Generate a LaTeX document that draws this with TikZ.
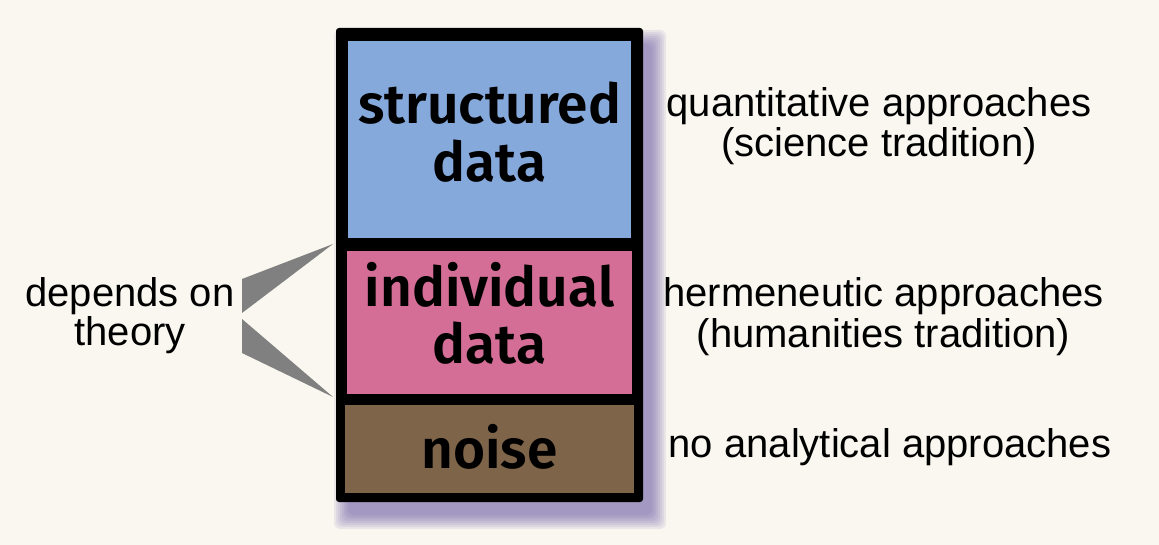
\documentclass[tikz,border=0pt]{standalone}
\usepackage{fontspec}
\setmainfont{Liberation Sans}
\newfontfamily\boxfont{Fira Sans}[UprightFont=* SemiBold]
\usetikzlibrary{positioning}
\definecolor{bgcream}{HTML}{F9F7EF}
\definecolor{structblue}{HTML}{86A9DC}
\definecolor{indivpink}{HTML}{D46E96}
\definecolor{noisebrown}{HTML}{7E6449}
\definecolor{shadowpurple}{HTML}{6A58A6}
\definecolor{wedgegray}{HTML}{808080}

\begin{document}
\begin{tikzpicture}[x=1pt, y=-1pt,
        frame/.style={rectangle, fill=black, rounded corners=3pt, inner sep=0pt},
        panel/.style={rectangle, draw=none, inner sep=0pt},
        boxtext/.style={font=\boxfont\fontsize{55}{58}\selectfont, anchor=base, inner sep=0pt},
        sidetext/.style={font=\fontsize{40}{39}\selectfont, anchor=base, inner sep=0pt},
        wedge/.style={fill=wedgegray, draw=none}
    ]

% Background
    \fill[bgcream] (0,0) rectangle (1159,545);
    \useasboundingbox (0,0) rectangle (1159,545);

% Shadow
    \foreach \d in {12,10,...,-2}
        \fill[shadowpurple, opacity=0.1, rounded corners=6pt]
            (346-\d,42-\d) rectangle (654+\d,517+\d);

% Outer frame and panels
    \node[frame, minimum width=307pt, minimum height=474pt] (stack) at (489.5,265) {};
    \node[panel, fill=structblue, minimum width=283pt, minimum height=197pt] (structured) at (489.5,139.5) {};
    \node[panel, fill=indivpink, minimum width=285pt, minimum height=142pt] (individual) at (489.5,322.5) {};
    \node[panel, fill=noisebrown, minimum width=289pt, minimum height=88pt] (noise) at (489.5,449) {};

% Panel labels
    \node[boxtext] (structuredA) at (489.5,124) {structured};
    \node[boxtext] (structuredB) at (489.5,182) {data};
    \node[boxtext] (individualA) at (489.5,306) {individual};
    \node[boxtext] (individualB) at (489.5,363) {data};
    \node[boxtext] (noiseA) at (489.5,468) {noise};

% Approaches
    \node[sidetext] (quantA) at (879,117) {quantitative approaches};
    \node[sidetext] (quantB) at (879,157) {(science tradition)};
    \node[sidetext] (hermA) at (883.5,307) {hermeneutic approaches};
    \node[sidetext] (hermB) at (883.5,347) {(humanities tradition)};
    \node[sidetext] (noneA) at (890,457) {no analytical approaches};

% Theory
    \node[sidetext] (theoryA) at (130,306) {depends on};
    \node[sidetext] (theoryB) at (130,345) {theory};
    \coordinate (tipUpper) at (333,244);
    \coordinate (tipLower) at (333,397);
    \fill[wedge] (242,279) -- (tipUpper) -- (242,313) -- cycle;
    \fill[wedge] (242,319) -- (tipLower) -- (242,353) -- cycle;

\end{tikzpicture}
\end{document}
